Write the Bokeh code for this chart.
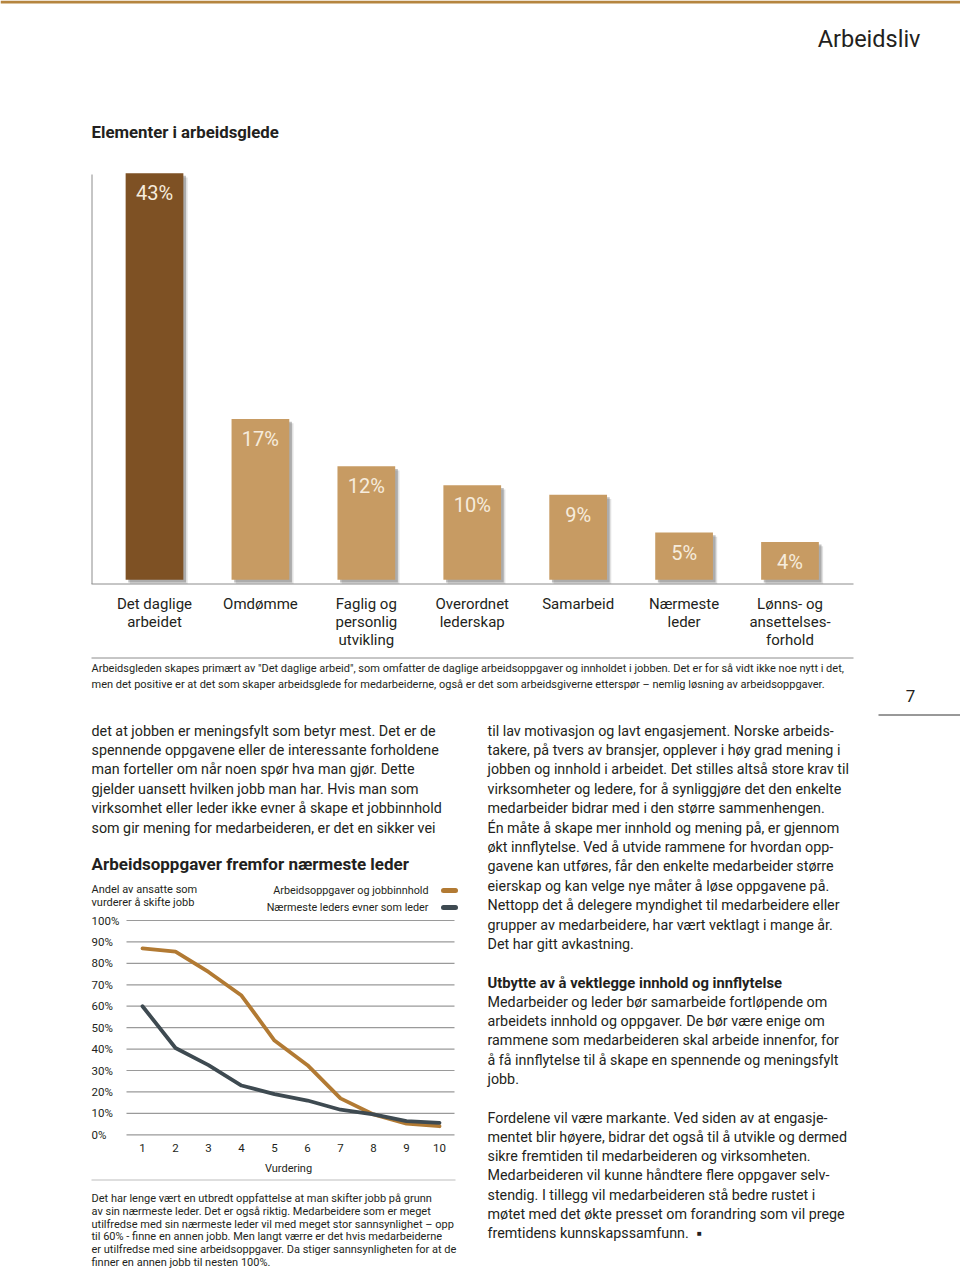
from bokeh.plotting import figure
from bokeh.models import Range1d, ColumnDataSource
from bokeh.core.properties import value
from bokeh.transform import dodge
from bokeh.embed import file_html
from bokeh.resources import INLINE

# ---------------- data ----------------
bar_categories = ["Det daglige\narbeidet", "Omdømme", "Faglig og\npersonlig\nutvikling",
                  "Overordnet\nlederskap", "Samarbeid", "Nærmeste\nleder",
                  "Lønns- og\nansettelses-\nforhold"]
bar_values = [43, 17, 12, 10, 9, 5, 4]
bar_labels = ["43%", "17%", "12%", "10%", "9%", "5%", "4%"]

rating = [1, 2, 3, 4, 5, 6, 7, 8, 9, 10]
tasks_share = [87, 85.5, 76, 65, 44, 32.5, 17, 9.5, 5.2, 4]
leader_share = [60, 40.5, 32.5, 23, 19, 16, 11.7, 9.5, 6.4, 5.6]
series_names = ["Arbeidsoppgaver og jobbinnhold", "Nærmeste leders evner som leder"]
y_ticks = [0, 10, 20, 30, 40, 50, 60, 70, 80, 90, 100]
y_tick_labels = ["0%", "10%", "20%", "30%", "40%", "50%", "60%", "70%", "80%", "90%", "100%"]
x_tick_labels = ["1", "2", "3", "4", "5", "6", "7", "8", "9", "10"]

caption_top = [
    "Arbeidsgleden skapes primært av \"Det daglige arbeid\", som omfatter de daglige arbeidsoppgaver og innholdet i jobben. Det er for så vidt ikke noe nytt i det,",
    "men det positive er at det som skaper arbeidsglede for medarbeiderne, også er det som arbeidsgiverne etterspør – nemlig løsning av arbeidsoppgaver.",
]
left_body = [
    "det at jobben er meningsfylt som betyr mest. Det er de",
    "spennende oppgavene eller de interessante forholdene",
    "man forteller om når noen spør hva man gjør. Dette",
    "gjelder uansett hvilken jobb man har. Hvis man som",
    "virksomhet eller leder ikke evner å skape et jobbinnhold",
    "som gir mening for medarbeideren, er det en sikker vei",
]
caption_bottom = [
    "Det har lenge vært en utbredt oppfattelse at man skifter jobb på grunn",
    "av sin nærmeste leder. Det er også riktig. Medarbeidere som er meget",
    "utilfredse med sin nærmeste leder vil med meget stor sannsynlighet – opp",
    "til 60% - finne en annen jobb. Men langt værre er det hvis medarbeiderne",
    "er utilfredse med sine arbeidsoppgaver. Da stiger sannsynligheten for at de",
    "finner en annen jobb til nesten 100%.",
]
right_body_1 = [
    "til lav motivasjon og lavt engasjement. Norske arbeids-",
    "takere, på tvers av bransjer, opplever i høy grad mening i",
    "jobben og innhold i arbeidet. Det stilles altså store krav til",
    "virksomheter og ledere, for å synliggjøre det den enkelte",
    "medarbeider bidrar med i den større sammenhengen.",
    "Én måte å skape mer innhold og mening på, er gjennom",
    "økt innflytelse. Ved å utvide rammene for hvordan opp-",
    "gavene kan utføres, får den enkelte medarbeider større",
    "eierskap og kan velge nye måter å løse oppgavene på.",
    "Nettopp det å delegere myndighet til medarbeidere eller",
    "grupper av medarbeidere, har vært vektlagt i mange år.",
    "Det har gitt avkastning.",
]
right_heading = "Utbytte av å vektlegge innhold og innflytelse"
right_body_2 = [
    "Medarbeider og leder bør samarbeide fortløpende om",
    "arbeidets innhold og oppgaver. De bør være enige om",
    "rammene som medarbeideren skal arbeide innenfor, for",
    "å få innflytelse til å skape en spennende og meningsfylt",
    "jobb.",
]
right_body_3 = [
    "Fordelene vil være markante. Ved siden av at engasje-",
    "mentet blir høyere, bidrar det også til å utvikle og dermed",
    "sikre fremtiden til medarbeideren og virksomheten.",
    "Medarbeideren vil kunne håndtere flere oppgaver selv-",
    "stendig. I tillegg vil medarbeideren stå bedre rustet i",
    "møtet med det økte presset om forandring som vil prege",
    "fremtidens kunnskapssamfunn.",
]

# ---------------- styles ----------------
FONT = "Roboto"
INK = "#231F20"
GOLD = "#B5853F"
DARK_BAR = "#7E5124"
TAN_BAR = "#C79B63"
LINE_GOLD = "#B27A33"
LINE_SLATE = "#3E4A51"
GRID = "#9A9A9A"
BODY = 14.3

p = figure(width=960, height=1270, x_range=Range1d(0, 960), y_range=Range1d(1270, 0),
           output_backend="svg", toolbar_location=None, min_border=0,
           x_axis_type=None, y_axis_type=None, outline_line_color=None,
           background_fill_color="white", border_fill_color="white")


def txt(x, ys, lines, size, color=INK, bold=False, align="left", base="middle"):
    p.text(x=[x] * len(lines), y=ys, text=lines, text_font=value(FONT),
           text_font_size=value(f"{size}px"), text_color=color,
           text_font_style="bold" if bold else "normal",
           text_align=align, text_baseline=base)


def rows(y0, step, n):
    return [y0 + i * step for i in range(n)]


# ---------- header ----------
p.segment(x0=0, y0=1.5, x1=960, y1=1.5, line_color=GOLD, line_width=3)
txt(920, [38], ["Arbeidsliv"], 23.5, align="right")
txt(91, [131], ["Elementer i arbeidsglede"], 16.8, bold=True)

# ---------- bar chart ----------
bx = p.subplot(x_source=Range1d(0, 6), y_source=Range1d(0, 43),
               x_target=Range1d(154, 789.5), y_target=Range1d(579.3, 172.7))
bx_cat = p.subplot(x_source=Range1d(0, 6), y_source=Range1d(1270, 0),
                   x_target=Range1d(154, 789.5), y_target=Range1d(1270, 0))

bar_src = ColumnDataSource(dict(
    x=list(range(len(bar_values))), top=bar_values, label=bar_labels,
    cat=bar_categories,
    color=[DARK_BAR] + [TAN_BAR] * (len(bar_values) - 1),
))
# soft shadows
bx.vbar(x=dodge("x", 0.04), top=dodge("top", -0.45), bottom=-0.45, width=0.545,
        source=bar_src, fill_color="#5a5a5a", fill_alpha=0.18, line_color=None)
bx.vbar(x=dodge("x", 0.025), top=dodge("top", -0.28), bottom=-0.28, width=0.545,
        source=bar_src, fill_color="#4a4a4a", fill_alpha=0.35, line_color=None)
bx.vbar(x="x", top="top", bottom=0, width=0.545, source=bar_src,
        fill_color="color", line_color=None)
bx.text(x="x", y="top", text="label", source=bar_src, y_offset=20,
        text_align="center", text_baseline="middle", text_color="#F6ECDD",
        text_font=value(FONT), text_font_size=value("20px"))
bx_cat.text(x="x", y=594, text="cat", source=bar_src, text_align="center",
            text_baseline="top", text_color=INK, text_font=value(FONT),
            text_font_size=value("15px"), text_line_height=1.0)

p.segment(x0=91.5, y0=174, x1=91.5, y1=583.5, line_color="#8c8c8c", line_width=1)
p.segment(x0=91, y0=583.5, x1=853, y1=583.5, line_color="#8c8c8c", line_width=1)
p.segment(x0=91, y0=657.5, x1=853, y1=657.5, line_color="#8c8c8c", line_width=1)

txt(91, [668, 684], caption_top, 11)

# page number
txt(910, [695], ["7"], 17, align="center")
p.segment(x0=878, y0=714.5, x1=960, y1=714.5, line_color="#333333", line_width=1)

# ---------- body text ----------
txt(91, rows(730, 19.4, len(left_body)), left_body, BODY)
txt(487, rows(730, 19.4, len(right_body_1)), right_body_1, BODY)
txt(487, [982], [right_heading], 14.8, bold=True)
txt(487, rows(1001, 19.4, len(right_body_2)), right_body_2, BODY)
txt(487, rows(1117, 19.3, len(right_body_3)), right_body_3, BODY)
txt(699, [1233], ["■"], 8, align="center")

# ---------- line chart ----------
txt(91, [863], ["Arbeidsoppgaver fremfor nærmeste leder"], 17, bold=True)
txt(91, [889, 902], ["Andel av ansatte som", "vurderer å skifte jobb"], 11)
txt(428, [890, 907], series_names, 10.8, align="right")
p.segment(x0=[443, 443], y0=[890, 907], x1=[455, 455], y1=[890, 907],
          line_color=[LINE_GOLD, LINE_SLATE], line_width=5, line_cap="round")

ly = p.subplot(x_source=Range1d(0, 960), y_source=Range1d(0, 100),
               x_target=Range1d(0, 960), y_target=Range1d(1134.3, 920))
lx = p.subplot(x_source=Range1d(1, 10), y_source=Range1d(1270, 0),
               x_target=Range1d(142, 439), y_target=Range1d(1270, 0))
lxy = p.subplot(x_source=Range1d(1, 10), y_source=Range1d(0, 100),
                x_target=Range1d(142, 439), y_target=Range1d(1134.3, 920))

tick_src = ColumnDataSource(dict(t=y_ticks, lab=y_tick_labels))
ly.segment(x0=126, x1=454, y0="t", y1="t", source=tick_src, line_color=GRID, line_width=1.2)
ly.text(x=91, y="t", text="lab", source=tick_src, text_align="left", text_baseline="middle",
        text_color=INK, text_font=value(FONT), text_font_size=value("11.5px"))
lx.text(x=rating, y=[1147] * len(rating), text=x_tick_labels, text_align="center",
        text_baseline="middle", text_color=INK, text_font=value(FONT),
        text_font_size=value("11.5px"))
txt(288, [1167.5], ["Vurdering"], 11, align="center")

lxy.line(rating, tasks_share, line_color=LINE_GOLD, line_width=3.8, line_join="round", line_cap="round")
lxy.line(rating, leader_share, line_color=LINE_SLATE, line_width=3.8, line_join="round", line_cap="round")

p.segment(x0=91, y0=1179.5, x1=455, y1=1179.5, line_color="#bdbdbd", line_width=1)
txt(91, rows(1197.7, 12.9, len(caption_bottom)), caption_bottom, 11)

open("out.html", "w").write(file_html(p, INLINE))
